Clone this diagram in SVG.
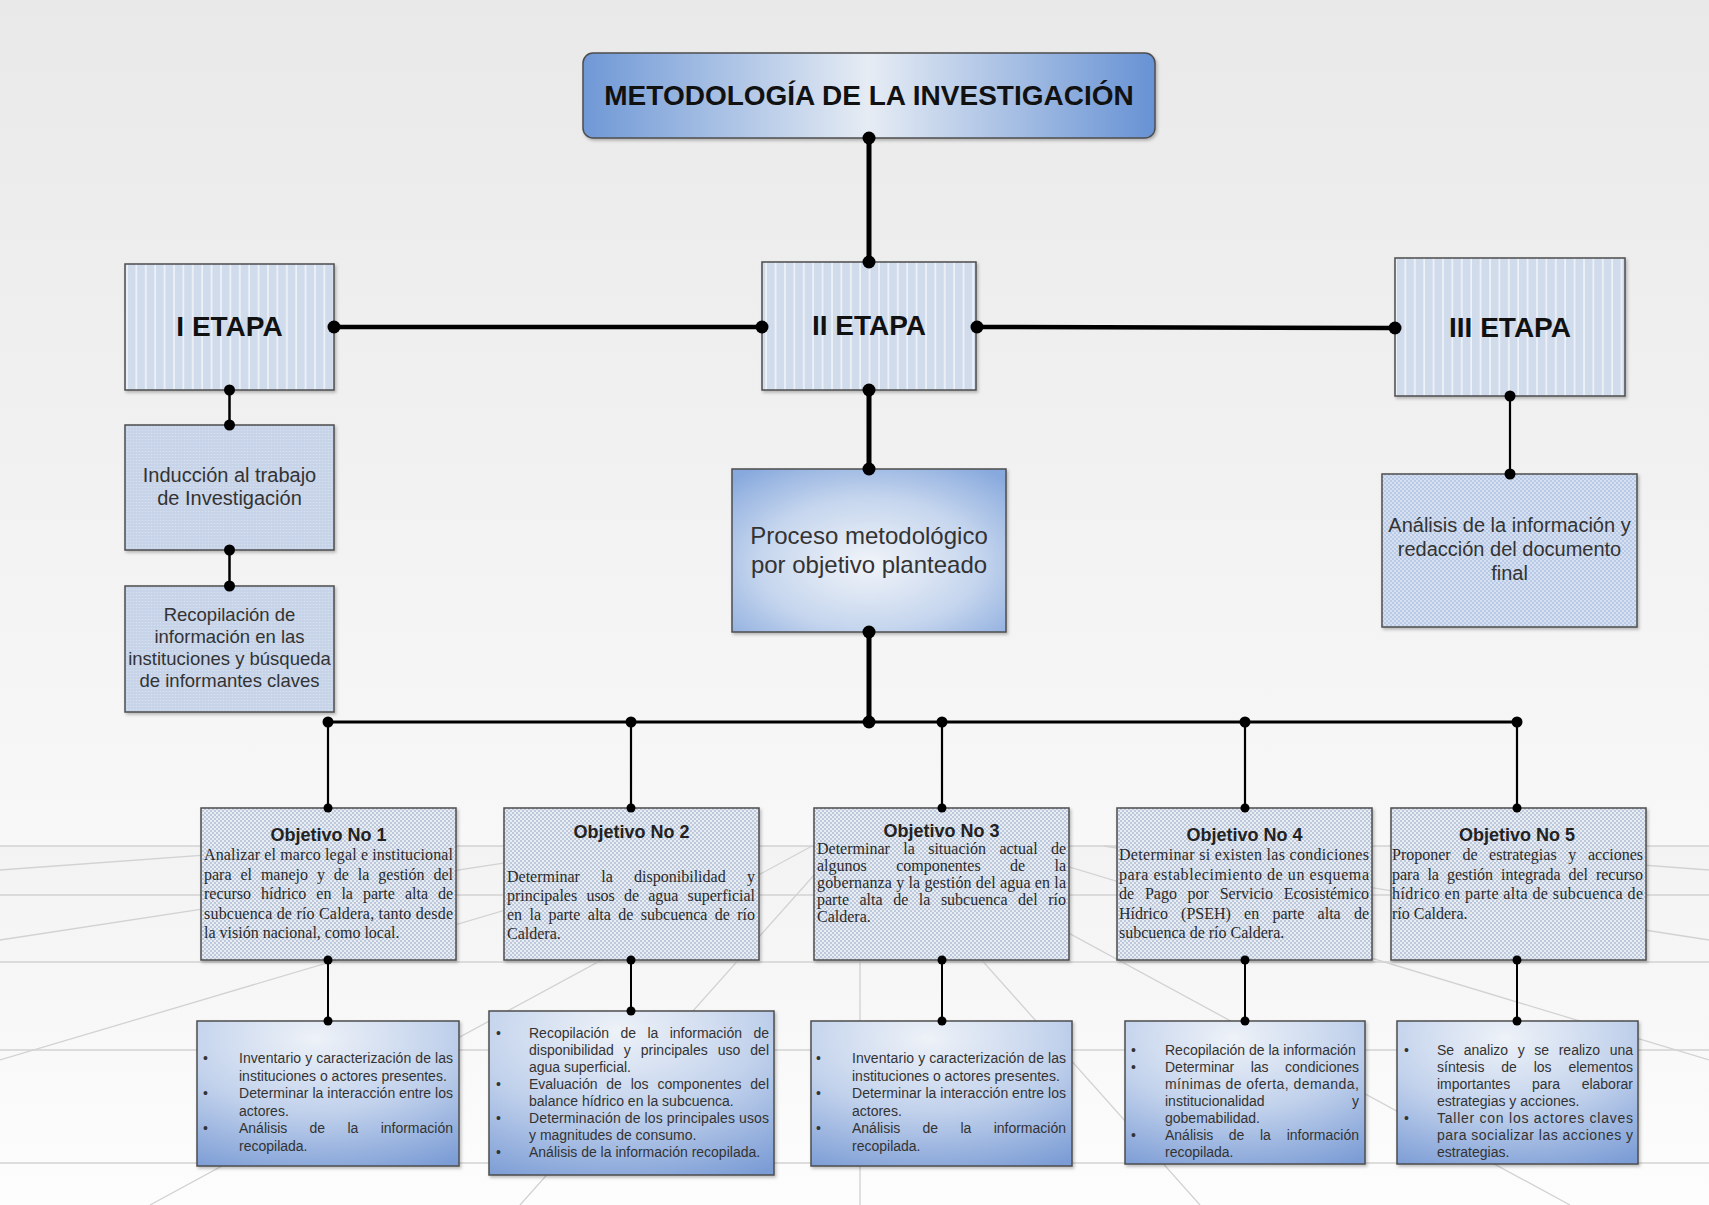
<svg xmlns="http://www.w3.org/2000/svg" width="1709" height="1205" viewBox="0 0 1709 1205">
<defs>
<style>
.bx{stroke:#4d4d4d;stroke-width:1.5}
.etp{font-family:"Liberation Sans",Arial,sans-serif;font-size:28px;font-weight:bold;fill:#111;text-anchor:middle}
.mid{font-family:"Liberation Sans",Arial,sans-serif;fill:#333;text-anchor:middle}
.oh{font-family:"Liberation Sans",Arial,sans-serif;font-size:18px;font-weight:bold;fill:#222;text-anchor:middle}
.ob{font-family:"Liberation Serif","Times New Roman",serif;font-size:16px;fill:#2a2a2a}
.bt{font-family:"Liberation Sans",Arial,sans-serif;font-size:14px;fill:#333}
.e{text-anchor:end}
.cn{fill:none;stroke:#000;stroke-linecap:butt}
.floor{stroke:#d2d2d2;stroke-width:1.3;fill:none}
</style>
<linearGradient id="bg" x1="0" y1="0" x2="0" y2="1">
<stop offset="0" stop-color="#e9e9e9"/><stop offset="1" stop-color="#f8f8f8"/>
</linearGradient>
<linearGradient id="fl" x1="0" y1="0" x2="0" y2="1">
<stop offset="0" stop-color="#f3f3f3"/><stop offset="1" stop-color="#fdfdfd"/>
</linearGradient>
<linearGradient id="gTitle" x1="0" y1="0" x2="1" y2="0">
<stop offset="0" stop-color="#6f98d6"/><stop offset="0.5" stop-color="#e6ecf4"/><stop offset="1" stop-color="#6792d4"/>
</linearGradient>
<radialGradient id="gProc" cx="0.5" cy="0.58" r="0.72">
<stop offset="0" stop-color="#f1f4f9"/><stop offset="0.55" stop-color="#c6d6ee"/><stop offset="1" stop-color="#88a9dd"/>
</radialGradient>
<radialGradient id="gBot" cx="0.45" cy="0.12" r="1">
<stop offset="0" stop-color="#eef2f8"/><stop offset="0.5" stop-color="#c2d2ec"/><stop offset="1" stop-color="#7b9cd5"/>
</radialGradient>
<pattern id="pStripe" width="9.4" height="10" patternUnits="userSpaceOnUse">
<rect width="9.4" height="10" fill="#d0dbeb"/><rect x="4" width="1.6" height="10" fill="#f1f4f9"/>
</pattern>
<pattern id="pInd" width="3" height="3" patternUnits="userSpaceOnUse">
<rect width="3" height="3" fill="#c6d3e8"/><circle cx="1.5" cy="1.5" r="0.8" fill="#d8e0ee"/>
</pattern>
<pattern id="pObj" width="4" height="4" patternUnits="userSpaceOnUse">
<rect width="4" height="4" fill="#e8edf4"/><circle cx="1" cy="1" r="0.9" fill="#aab7cf"/><circle cx="3" cy="3" r="0.9" fill="#aab7cf"/>
</pattern>
<pattern id="pAn" width="4" height="4" patternUnits="userSpaceOnUse">
<rect width="4" height="4" fill="#b9cae6"/><circle cx="1" cy="1" r="0.9" fill="#e6ecf6"/><circle cx="3" cy="3" r="0.9" fill="#e6ecf6"/>
</pattern>
<filter id="sh" x="-5%" y="-5%" width="112%" height="115%">
<feDropShadow dx="1.5" dy="2" stdDeviation="1.5" flood-color="#000" flood-opacity="0.25"/>
</filter>
<marker id="dL" viewBox="-7 -7 14 14" markerWidth="14" markerHeight="14" refX="0" refY="0" markerUnits="userSpaceOnUse"><circle r="6.5" fill="#000"/></marker>
<marker id="dM" viewBox="-6 -6 12 12" markerWidth="12" markerHeight="12" refX="0" refY="0" markerUnits="userSpaceOnUse"><circle r="5.5" fill="#000"/></marker>
<marker id="dS" viewBox="-5 -5 10 10" markerWidth="10" markerHeight="10" refX="0" refY="0" markerUnits="userSpaceOnUse"><circle r="4.5" fill="#000"/></marker>
</defs>

<g id="background">
<rect width="1709" height="846" fill="url(#bg)"/>
<rect y="846" width="1709" height="359" fill="url(#fl)"/>
<path class="floor" d="M0,846H1709M0,895H1709M0,962H1709M0,1050H1709M0,1163H1709"/>
<path class="floor" d="M331,846L0,870M616,846L0,940M721,846L0,1060M812,846L150,1205M840,846L520,1205M860,846L860,1205M880,846L1200,1205M908,846L1570,1205M1000,846L1709,1060M1104,846L1709,940M1389,846L1709,870"/>
</g>

<g id="title">
<rect class="bx" x="583" y="53" width="572" height="85" rx="10" fill="url(#gTitle)" filter="url(#sh)"/>
<text class="etp" x="869" y="105">METODOLOGÍA DE LA INVESTIGACIÓN</text>
</g>

<g id="etapa1">
<rect class="bx" x="125" y="264" width="209" height="126" fill="url(#pStripe)" filter="url(#sh)"/>
<text class="etp" x="229.5" y="336">I ETAPA</text>
</g>
<g id="etapa2">
<rect class="bx" x="762" y="262" width="214" height="128" fill="url(#pStripe)" filter="url(#sh)"/>
<text class="etp" x="869" y="335">II ETAPA</text>
</g>
<g id="etapa3">
<rect class="bx" x="1395" y="258" width="230" height="138" fill="url(#pStripe)" filter="url(#sh)"/>
<text class="etp" x="1510" y="337">III ETAPA</text>
</g>

<g id="induccion">
<rect class="bx" x="125" y="425" width="209" height="125" fill="url(#pInd)" filter="url(#sh)"/>
<text class="mid" font-size="20" x="229.5" y="482">Inducción al trabajo</text>
<text class="mid" font-size="20" x="229.5" y="505">de Investigación</text>
</g>
<g id="recopilacion">
<rect class="bx" x="125" y="586" width="209" height="126" fill="url(#pInd)" filter="url(#sh)"/>
<text class="mid" font-size="18.5" x="229.5" y="621">Recopilación de</text>
<text class="mid" font-size="18.5" x="229.5" y="643">información en las</text>
<text class="mid" font-size="18.5" x="229.5" y="665">instituciones y búsqueda</text>
<text class="mid" font-size="18.5" x="229.5" y="687">de informantes claves</text>
</g>
<g id="proceso">
<rect class="bx" x="732" y="469" width="274" height="163" fill="url(#gProc)" filter="url(#sh)"/>
<text class="mid" font-size="24" x="869" y="544">Proceso metodológico</text>
<text class="mid" font-size="24" x="869" y="573">por objetivo planteado</text>
</g>
<g id="analisis">
<rect class="bx" x="1382" y="474" width="255" height="153" fill="url(#pAn)" filter="url(#sh)"/>
<text class="mid" font-size="20" x="1509.5" y="532">Análisis de la información y</text>
<text class="mid" font-size="20" x="1509.5" y="556">redacción del documento</text>
<text class="mid" font-size="20" x="1509.5" y="580">final</text>
</g>

<g id="objetivo1">
<rect class="bx" x="201" y="808" width="255" height="152" fill="url(#pObj)" filter="url(#sh)"/>
<text class="oh" x="328.5" y="841">Objetivo No 1</text>
<text class="ob" x="204" y="860" textLength="249" lengthAdjust="spacing">Analizar el marco legal e institucional</text>
<text class="ob" y="879.5"><tspan x="204">para</tspan><tspan x="240.4">el</tspan><tspan x="260.9">manejo</tspan><tspan x="316.9">y</tspan><tspan x="333.8">de</tspan><tspan x="357.8">la</tspan><tspan x="378.3">gestión</tspan><tspan class="e" x="453">del</tspan></text>
<text class="ob" y="899"><tspan x="204">recurso</tspan><tspan x="261">hídrico</tspan><tspan x="316.3">en</tspan><tspan x="341.4">la</tspan><tspan x="362.9">parte</tspan><tspan x="404.9">alta</tspan><tspan class="e" x="453">de</tspan></text>
<text class="ob" x="204" y="918.5" textLength="249" lengthAdjust="spacing">subcuenca de río Caldera, tanto desde</text>
<text class="ob" x="204" y="938">la visión nacional, como local.</text>
</g>
<g id="objetivo2">
<rect class="bx" x="504" y="808" width="255" height="152" fill="url(#pObj)" filter="url(#sh)"/>
<text class="oh" x="631.5" y="838">Objetivo No 2</text>
<text class="ob" y="882"><tspan x="507">Determinar</tspan><tspan x="601.2">la</tspan><tspan x="634.1">disponibilidad</tspan><tspan class="e" x="755">y</tspan></text>
<text class="ob" y="901"><tspan x="507">principales</tspan><tspan x="586.4">usos</tspan><tspan x="623.9">de</tspan><tspan x="648.2">agua</tspan><tspan class="e" x="755">superficial</tspan></text>
<text class="ob" y="920"><tspan x="507">en</tspan><tspan x="529.5">la</tspan><tspan x="548.4">parte</tspan><tspan x="587.8">alta</tspan><tspan x="618.3">de</tspan><tspan x="640.8">subcuenca</tspan><tspan x="714.7">de</tspan><tspan class="e" x="755">río</tspan></text>
<text class="ob" x="507" y="939">Caldera.</text>
</g>
<g id="objetivo3">
<rect class="bx" x="814" y="808" width="255" height="152" fill="url(#pObj)" filter="url(#sh)"/>
<text class="oh" x="941.5" y="837">Objetivo No 3</text>
<text class="ob" y="854"><tspan x="817">Determinar</tspan><tspan x="903.3">la</tspan><tspan x="928.2">situación</tspan><tspan x="999.4">actual</tspan><tspan class="e" x="1066">de</tspan></text>
<text class="ob" y="871"><tspan x="817">algunos</tspan><tspan x="896.2">componentes</tspan><tspan x="1009.9">de</tspan><tspan class="e" x="1066">la</tspan></text>
<text class="ob" x="817" y="888" textLength="249" lengthAdjust="spacing">gobernanza y la gestión del agua en la</text>
<text class="ob" y="905"><tspan x="817">parte</tspan><tspan x="859.5">alta</tspan><tspan x="893.2">de</tspan><tspan x="918.8">la</tspan><tspan x="940.9">subcuenca</tspan><tspan x="1018.1">del</tspan><tspan class="e" x="1066">río</tspan></text>
<text class="ob" x="817" y="922">Caldera.</text>
</g>
<g id="objetivo4">
<rect class="bx" x="1117" y="808" width="255" height="152" fill="url(#pObj)" filter="url(#sh)"/>
<text class="oh" x="1244.5" y="841">Objetivo No 4</text>
<text class="ob" x="1119" y="860" textLength="250" lengthAdjust="spacing">Determinar si existen las condiciones</text>
<text class="ob" x="1119" y="879.5" textLength="250" lengthAdjust="spacing">para establecimiento de un esquema</text>
<text class="ob" y="899"><tspan x="1119">de</tspan><tspan x="1144.9">Pago</tspan><tspan x="1187.6">por</tspan><tspan x="1219.7">Servicio</tspan><tspan class="e" x="1369">Ecosistémico</tspan></text>
<text class="ob" y="918.5"><tspan x="1119">Hídrico</tspan><tspan x="1181.1">(PSEH)</tspan><tspan x="1244.1">en</tspan><tspan x="1272.4">parte</tspan><tspan x="1317.6">alta</tspan><tspan class="e" x="1369">de</tspan></text>
<text class="ob" x="1119" y="938">subcuenca de río Caldera.</text>
</g>
<g id="objetivo5">
<rect class="bx" x="1391" y="808" width="255" height="152" fill="url(#pObj)" filter="url(#sh)"/>
<text class="oh" x="1517" y="841">Objetivo No 5</text>
<text class="ob" y="860"><tspan x="1392">Proponer</tspan><tspan x="1462.4">de</tspan><tspan x="1489.1">estrategias</tspan><tspan x="1568.3">y</tspan><tspan class="e" x="1643">acciones</tspan></text>
<text class="ob" y="879.5"><tspan x="1392">para</tspan><tspan x="1427.4">la</tspan><tspan x="1446.9">gestión</tspan><tspan x="1501">integrada</tspan><tspan x="1568.4">del</tspan><tspan class="e" x="1643">recurso</tspan></text>
<text class="ob" x="1392" y="899" textLength="251" lengthAdjust="spacing">hídrico en parte alta de subcuenca de</text>
<text class="ob" x="1392" y="918.5">río Caldera.</text>
</g>

<g id="actividades1">
<rect class="bx" x="197" y="1021" width="262" height="145" fill="url(#gBot)" filter="url(#sh)"/>
<text class="bt" x="203" y="1063">•</text><text class="bt" x="203" y="1098">•</text><text class="bt" x="203" y="1133">•</text>
<text class="bt" x="239" y="1063" textLength="214" lengthAdjust="spacing">Inventario y caracterización de las</text>
<text class="bt" x="239" y="1080.5">instituciones o actores presentes.</text>
<text class="bt" x="239" y="1098" textLength="214" lengthAdjust="spacing">Determinar la interacción entre los</text>
<text class="bt" x="239" y="1115.5">actores.</text>
<text class="bt" y="1133"><tspan x="239">Análisis</tspan><tspan x="309.5">de</tspan><tspan x="347.4">la</tspan><tspan class="e" x="453">información</tspan></text>
<text class="bt" x="239" y="1150.5">recopilada.</text>
</g>
<g id="actividades2">
<rect class="bx" x="489" y="1011" width="285" height="164" fill="url(#gBot)" filter="url(#sh)"/>
<text class="bt" x="496" y="1038">•</text><text class="bt" x="496" y="1089">•</text><text class="bt" x="496" y="1123">•</text><text class="bt" x="496" y="1157">•</text>
<text class="bt" y="1038"><tspan x="529">Recopilación</tspan><tspan x="620.5">de</tspan><tspan x="647.4">la</tspan><tspan x="669.7">información</tspan><tspan class="e" x="769">de</tspan></text>
<text class="bt" y="1055"><tspan x="529">disponibilidad</tspan><tspan x="623.8">y</tspan><tspan x="640.8">principales</tspan><tspan x="717.7">uso</tspan><tspan class="e" x="769">del</tspan></text>
<text class="bt" x="529" y="1072">agua superficial.</text>
<text class="bt" y="1089"><tspan x="529">Evaluación</tspan><tspan x="606.3">de</tspan><tspan x="630.7">los</tspan><tspan x="657.4">componentes</tspan><tspan class="e" x="769">del</tspan></text>
<text class="bt" x="529" y="1106">balance hídrico en la subcuenca.</text>
<text class="bt" x="529" y="1123" textLength="240" lengthAdjust="spacing">Determinación de los principales usos</text>
<text class="bt" x="529" y="1140">y magnitudes de consumo.</text>
<text class="bt" x="529" y="1157">Análisis de la información recopilada.</text>
</g>
<g id="actividades3">
<rect class="bx" x="811" y="1021" width="261" height="145" fill="url(#gBot)" filter="url(#sh)"/>
<text class="bt" x="816" y="1063">•</text><text class="bt" x="816" y="1098">•</text><text class="bt" x="816" y="1133">•</text>
<text class="bt" x="852" y="1063" textLength="214" lengthAdjust="spacing">Inventario y caracterización de las</text>
<text class="bt" x="852" y="1080.5">instituciones o actores presentes.</text>
<text class="bt" x="852" y="1098" textLength="214" lengthAdjust="spacing">Determinar la interacción entre los</text>
<text class="bt" x="852" y="1115.5">actores.</text>
<text class="bt" y="1133"><tspan x="852">Análisis</tspan><tspan x="922.5">de</tspan><tspan x="960.4">la</tspan><tspan class="e" x="1066">información</tspan></text>
<text class="bt" x="852" y="1150.5">recopilada.</text>
</g>
<g id="actividades4">
<rect class="bx" x="1125" y="1021" width="240" height="143" fill="url(#gBot)" filter="url(#sh)"/>
<text class="bt" x="1131" y="1055">•</text><text class="bt" x="1131" y="1072">•</text><text class="bt" x="1131" y="1140">•</text>
<text class="bt" x="1165" y="1055">Recopilación de la información</text>
<text class="bt" y="1072"><tspan x="1165">Determinar</tspan><tspan x="1250.7">las</tspan><tspan class="e" x="1359">condiciones</tspan></text>
<text class="bt" x="1165" y="1089" textLength="194" lengthAdjust="spacing">mínimas de oferta, demanda,</text>
<text class="bt" y="1106"><tspan x="1165">institucionalidad</tspan><tspan class="e" x="1359">y</tspan></text>
<text class="bt" x="1165" y="1123">gobemabilidad.</text>
<text class="bt" y="1140"><tspan x="1165">Análisis</tspan><tspan x="1228.8">de</tspan><tspan x="1260">la</tspan><tspan class="e" x="1359">información</tspan></text>
<text class="bt" x="1165" y="1157">recopilada.</text>
</g>
<g id="actividades5">
<rect class="bx" x="1397" y="1021" width="241" height="143" fill="url(#gBot)" filter="url(#sh)"/>
<text class="bt" x="1404" y="1055">•</text><text class="bt" x="1404" y="1123">•</text>
<text class="bt" y="1055"><tspan x="1437">Se</tspan><tspan x="1463.7">analizo</tspan><tspan x="1517.7">y</tspan><tspan x="1534.3">se</tspan><tspan x="1558.7">realizo</tspan><tspan class="e" x="1633">una</tspan></text>
<text class="bt" y="1072"><tspan x="1437">síntesis</tspan><tspan x="1501.3">de</tspan><tspan x="1533.7">los</tspan><tspan class="e" x="1633">elementos</tspan></text>
<text class="bt" y="1089"><tspan x="1437">importantes</tspan><tspan x="1531.9">para</tspan><tspan class="e" x="1633">elaborar</tspan></text>
<text class="bt" x="1437" y="1106">estrategias y acciones.</text>
<text class="bt" x="1437" y="1123" textLength="196" lengthAdjust="spacing">Taller con los actores claves</text>
<text class="bt" x="1437" y="1140" textLength="196" lengthAdjust="spacing">para socializar las acciones y</text>
<text class="bt" x="1437" y="1157">estrategias.</text>
</g>

<g id="connectors">
<path class="cn" stroke-width="5" d="M869,138V262" marker-start="url(#dL)" marker-end="url(#dL)"/>
<path class="cn" stroke-width="4.5" d="M334,327H762" marker-start="url(#dL)" marker-end="url(#dL)"/>
<path class="cn" stroke-width="4.5" d="M977,327L1395,328" marker-start="url(#dL)" marker-end="url(#dL)"/>
<path class="cn" stroke-width="5" d="M869,390V469" marker-start="url(#dL)" marker-end="url(#dL)"/>
<path class="cn" stroke-width="5" d="M869,632V722" marker-start="url(#dL)" marker-end="url(#dL)"/>
<path class="cn" stroke-width="3" d="M328,722H1517"/>
<path class="cn" stroke-width="2.2" d="M328,722V808" marker-start="url(#dM)" marker-end="url(#dS)"/>
<path class="cn" stroke-width="2.2" d="M631,722V808" marker-start="url(#dM)" marker-end="url(#dS)"/>
<path class="cn" stroke-width="2.2" d="M942,722V808" marker-start="url(#dM)" marker-end="url(#dS)"/>
<path class="cn" stroke-width="2.2" d="M1245,722V808" marker-start="url(#dM)" marker-end="url(#dS)"/>
<path class="cn" stroke-width="2.2" d="M1517,722V808" marker-start="url(#dM)" marker-end="url(#dS)"/>
<path class="cn" stroke-width="2.5" d="M229.5,390V425" marker-start="url(#dM)" marker-end="url(#dM)"/>
<path class="cn" stroke-width="2.5" d="M229.5,550V586" marker-start="url(#dM)" marker-end="url(#dM)"/>
<path class="cn" stroke-width="2.2" d="M1510,396V474" marker-start="url(#dM)" marker-end="url(#dM)"/>
<path class="cn" stroke-width="2" d="M328,960V1021" marker-start="url(#dS)" marker-end="url(#dS)"/>
<path class="cn" stroke-width="2" d="M631,960V1011" marker-start="url(#dS)" marker-end="url(#dS)"/>
<path class="cn" stroke-width="2" d="M942,960V1021" marker-start="url(#dS)" marker-end="url(#dS)"/>
<path class="cn" stroke-width="2" d="M1245,960V1021" marker-start="url(#dS)" marker-end="url(#dS)"/>
<path class="cn" stroke-width="2" d="M1517,960V1021" marker-start="url(#dS)" marker-end="url(#dS)"/>
</g>
</svg>
